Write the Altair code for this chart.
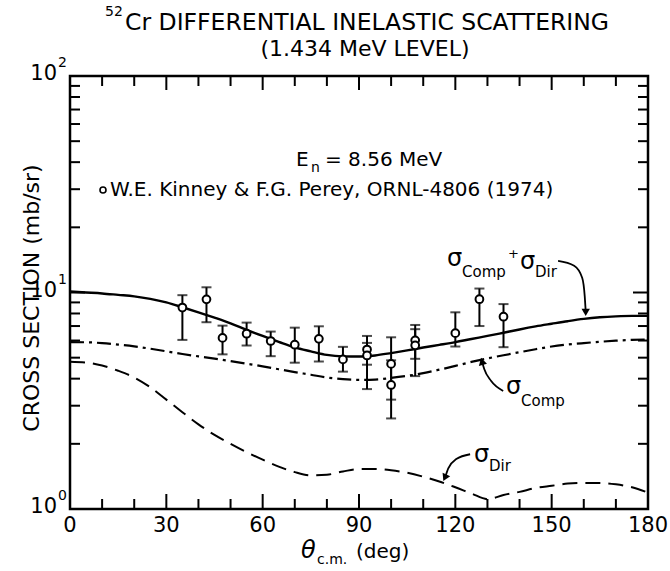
import altair as alt
import pandas as pd

FONT = "DejaVu Sans"

# Calculated angular distributions (theta c.m. in degrees, mb/sr)
curve_angle = list(range(0, 181, 5))
sigma_total = [10.1, 10.0, 9.9, 9.75, 9.6, 9.35, 9.0, 8.55, 8.1, 7.65, 7.2, 6.72,
               6.3, 5.92, 5.58, 5.35, 5.15, 5.07, 5.06, 5.12, 5.25, 5.4, 5.57,
               5.73, 5.9, 6.1, 6.3, 6.52, 6.75, 6.97, 7.17, 7.37, 7.55, 7.68,
               7.76, 7.8, 7.8]
sigma_comp = [5.9, 5.89, 5.84, 5.75, 5.64, 5.5, 5.35, 5.2, 5.07, 4.95, 4.82, 4.69,
              4.56, 4.42, 4.29, 4.17, 4.05, 3.98, 3.95, 3.96, 4.03, 4.12, 4.24,
              4.4, 4.58, 4.78, 4.96, 5.13, 5.3, 5.47, 5.63, 5.75, 5.84, 5.92,
              5.99, 6.04, 6.07]
sigma_dir = [4.79, 4.75, 4.6, 4.35, 4.05, 3.65, 3.2, 2.8, 2.46, 2.2, 2.0, 1.83,
             1.69, 1.57, 1.48, 1.43, 1.44, 1.49, 1.53, 1.53, 1.51, 1.47, 1.41,
             1.34, 1.26, 1.18, 1.11, 1.16, 1.2, 1.25, 1.28, 1.31, 1.32, 1.32,
             1.3, 1.26, 1.19]

# Kinney & Perey measurements
exp_angle = [35, 42.5, 47.5, 55, 62.5, 70, 77.5, 85, 92.5, 92.5, 100, 100,
             107.5, 107.5, 120, 127.5, 135]
exp_value = [8.52, 9.30, 6.17, 6.45, 5.97, 5.74, 6.11, 4.91, 5.45, 5.12, 4.68,
             3.74, 6.01, 5.70, 6.49, 9.31, 7.73]
exp_low = [6.04, 7.29, 5.18, 5.69, 5.08, 4.74, 4.80, 4.31, 4.64, 3.58, 3.20,
           2.62, 4.94, 4.11, 5.63, 7.00, 5.59]
exp_high = [9.72, 10.57, 7.03, 7.26, 6.60, 6.88, 6.98, 5.61, 6.30, 5.85, 6.21,
            4.86, 7.08, 6.77, 8.10, 10.43, 8.84]

# Axis tick positions and labels
x_label_values = [0, 30, 60, 90, 120, 150, 180]
x_minor = [10, 20, 40, 50, 70, 80, 100, 110, 130, 140, 160, 170]
x_major = [30, 60, 90, 120, 150]
y_minor = [2, 3, 4, 5, 6, 7, 8, 9, 20, 30, 40, 50, 60, 70, 80, 90]
y_major = [10]
decades = [1, 10, 100]
decade_exp = ["0", "1", "2"]

# Leader arrows from the curve labels (angle, mb/sr)
arrow_total_x = [152, 157, 159.5, 160.3, 160.6]
arrow_total_y = [14.0, 13.3, 11.7, 9.6, 8.2]
arrow_comp_x = [134.9, 131.1, 129.0, 128.4]
arrow_comp_y = [3.51, 3.91, 4.43, 4.75]
arrow_dir_x = [124.6, 120.3, 117.8, 116.9]
arrow_dir_y = [1.79, 1.70, 1.54, 1.41]

W, H = 578, 433
xs = alt.Scale(domain=[0, 180], nice=False, zero=False)
ys = alt.Scale(type="log", domain=[1, 100], nice=False)

curves = pd.DataFrame({"angle": curve_angle, "total": sigma_total,
                       "comp": sigma_comp, "dir": sigma_dir})
exp = pd.DataFrame({"angle": exp_angle, "value": exp_value,
                    "low": exp_low, "high": exp_high})


def X(field):
    return alt.X(field, scale=xs, axis=None)


def Y(field):
    return alt.Y(field, scale=ys, axis=None)


def curve(field, dash=None, width=2.3):
    kw = {"strokeDash": dash} if dash else {}
    return alt.Chart(curves).mark_line(color="black", strokeWidth=width,
                                       interpolate="monotone", **kw).encode(
        x=X("angle:Q"), y=Y(f"{field}:Q"))


line_total = curve("total", width=2.4)
line_comp = curve("comp", dash=[14, 5, 3, 5], width=2.2)
line_dir = curve("dir", dash=[15, 8], width=2.0)

err = alt.Chart(exp).mark_rule(color="black", strokeWidth=2).encode(
    x=X("angle:Q"), y=Y("low:Q"), y2="high:Q")
cap_lo = alt.Chart(exp).mark_tick(color="black", orient="horizontal",
                                  size=10, thickness=2).encode(
    x=X("angle:Q"), y=Y("low:Q"))
cap_hi = alt.Chart(exp).mark_tick(color="black", orient="horizontal",
                                  size=10, thickness=2).encode(
    x=X("angle:Q"), y=Y("high:Q"))
pts = alt.Chart(exp).mark_point(shape="circle", size=60, filled=True,
                                fill="white", stroke="black",
                                strokeWidth=2, opacity=1).encode(
    x=X("angle:Q"), y=Y("value:Q"))


# Inward ticks on all four sides
def xticks(vals, length, top=False):
    y0 = 0 if top else H
    y1 = length if top else H - length
    return alt.Chart(pd.DataFrame({"t": vals})).mark_rule(
        color="black", strokeWidth=2).encode(
        x=X("t:Q"), y=alt.value(y0), y2=alt.value(y1))


def yticks(vals, length, right=False):
    x0 = W if right else 0
    x1 = W - length if right else length
    return alt.Chart(pd.DataFrame({"t": vals})).mark_rule(
        color="black", strokeWidth=2).encode(
        y=Y("t:Q"), x=alt.value(x0), x2=alt.value(x1))


ticks = [
    xticks(x_minor, 10), xticks(x_major, 15),
    xticks(x_minor, 10, top=True), xticks(x_major, 14, top=True),
    yticks(y_minor, 10), yticks(y_major, 15),
    yticks(y_minor, 10, right=True), yticks(y_major, 15, right=True),
]

# Angle labels under the frame
xlab = alt.Chart(pd.DataFrame({"t": x_label_values})).mark_text(
    font=FONT, fontSize=21, align="center", baseline="middle",
    color="black").encode(
    x=X("t:Q"), y=alt.value(H + 17), text=alt.Text("t:Q", format="d"))

# Decade labels 10^n
dec = pd.DataFrame({"v": decades, "e": decade_exp, "b": ["10"] * 3})
dec_base = alt.Chart(dec).mark_text(font=FONT, fontSize=21, align="right",
                                    baseline="middle", dy=-2).encode(
    y=Y("v:Q"), x=alt.value(-13), text="b:N")
dec_exp = alt.Chart(dec).mark_text(font=FONT, fontSize=14, align="left",
                                   baseline="middle", dy=-13).encode(
    y=Y("v:Q"), x=alt.value(-12), text="e:N")


def label(txt, x, y, size, align="left", angle=None, style=None):
    kw = {}
    if angle is not None:
        kw["angle"] = angle
    if style is not None:
        kw["fontStyle"] = style
    return alt.Chart(pd.DataFrame({"s": [txt]})).mark_text(
        font=FONT, fontSize=size, align=align, baseline="middle",
        color="black", **kw).encode(
        x=alt.value(x), y=alt.value(y), text="s:N")


texts = [
    # title
    label("52", 35, -64, 14),
    label("Cr DIFFERENTIAL INELASTIC SCATTERING", 55, -53, 23.5),
    label("(1.434 MeV LEVEL)", 295, -27, 22, align="center"),
    # axis titles
    label("CROSS SECTION (mb/sr)", -38, 222, 22, align="center", angle=270),
    label("θ", 231, 475, 24, style="italic"),
    label("c.m.", 247, 484, 14),
    label("(deg)", 286, 476, 20),
    # annotations
    label("E", 226, 84, 20),
    label("n", 241, 92, 14),
    label("= 8.56 MeV", 255, 84, 20),
    label("W.E. Kinney & F.G. Perey, ORNL-4806 (1974)", 40, 114, 20),
    label("σ", 377, 183, 24),
    label("Comp", 392, 196, 15),
    label("+", 438, 178, 13),
    label("σ", 450, 186, 24),
    label("Dir", 465, 196, 15),
    label("σ", 436, 311, 24),
    label("Comp", 451, 325, 15),
    label("σ", 404, 379, 24),
    label("Dir", 419, 390, 15),
]

legend_circle = alt.Chart(pd.DataFrame({"k": [0]})).mark_point(
    shape="circle", size=36, stroke="black", strokeWidth=1.6, fill="white",
    filled=True, opacity=1).encode(x=alt.value(33), y=alt.value(114))


def arrow(xv, yv, angle):
    df = pd.DataFrame({"x": xv, "y": yv, "o": list(range(len(xv)))})
    path = alt.Chart(df).mark_line(color="black", strokeWidth=1.8,
                                   interpolate="monotone").encode(
        x=X("x:Q"), y=Y("y:Q"), order="o:Q")
    head = alt.Chart(df.tail(1)).mark_point(
        shape="triangle", size=70, filled=True, color="black", opacity=1,
        angle=angle).encode(x=X("x:Q"), y=Y("y:Q"))
    return [path, head]


arrows = (arrow(arrow_total_x, arrow_total_y, 180)
          + arrow(arrow_comp_x, arrow_comp_y, 345)
          + arrow(arrow_dir_x, arrow_dir_y, 205))

chart = alt.layer(
    line_total, line_comp, line_dir, err, cap_lo, cap_hi, pts,
    *ticks, xlab, dec_base, dec_exp, *texts, legend_circle, *arrows,
).properties(
    width=W, height=H,
    autosize=alt.AutoSizeParams(type="none"),
    padding={"left": 70, "top": 76, "right": 22, "bottom": 62},
    background="white",
).configure_view(stroke="black", strokeWidth=2.5)

chart.save("out.html", embed_options={"renderer": "svg", "actions": False})
